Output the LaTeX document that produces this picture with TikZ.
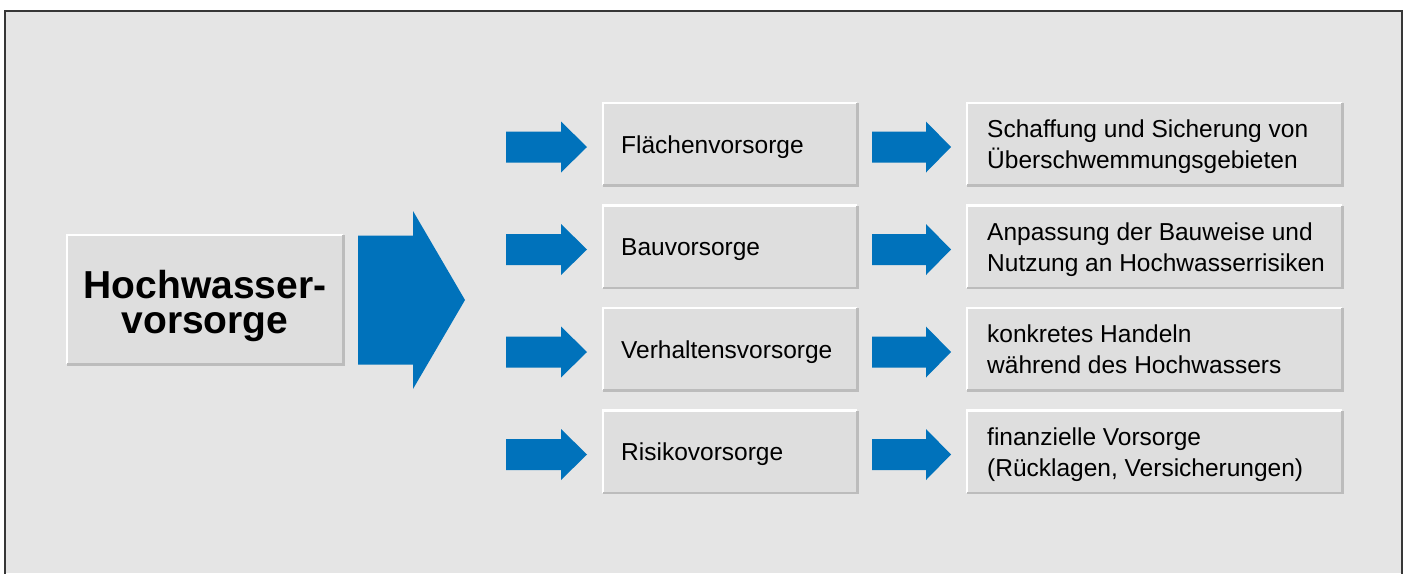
\documentclass[tikz,border=0pt]{standalone}
\usepackage{fontspec}
\setmainfont{Liberation Sans}
\definecolor{pagebg}{RGB}{229,229,229}
\definecolor{boxfill}{RGB}{222,222,222}
\definecolor{boxshade}{RGB}{188,188,188}
\definecolor{framecol}{RGB}{55,55,55}
\definecolor{arrowblue}{RGB}{0,114,187}
\newcommand\blockarrow[6]{%
  \fill[arrowblue] (#1,#4-#5) -- (#2,#4-#5) -- (#2,#4-#6) -- (#3,#4)
    -- (#2,#4+#6) -- (#2,#4+#5) -- (#1,#4+#5) -- cycle;}
\newcommand\bevel[1]{%
  \draw[hilite] (#1.south west) -- (#1.north west) -- (#1.north east);
  \draw[shadeline] (#1.south west) -- (#1.south east) -- (#1.north east);}
\tikzset{
  panel/.style={rectangle, fill=boxfill, anchor=north west, inner sep=0pt, minimum height=82pt},
  midbox/.style={panel, minimum width=254pt},
  rightbox/.style={panel, minimum width=375pt},
  hilite/.style={white, line width=2.2pt},
  shadeline/.style={boxshade, line width=2.2pt},
  midtext/.style={anchor=base west, inner sep=0pt, font=\fontsize{24.5}{31}\selectfont},
  righttext/.style={anchor=north west, inner sep=0pt, align=left, font=\fontsize{24.5}{31}\selectfont},
  bigtext/.style={anchor=north, inner sep=0pt, align=center, font=\bfseries\fontsize{39}{35}\selectfont}
}
\begin{document}
\begin{tikzpicture}[x=1pt, y=-1pt]
\useasboundingbox (0,0) rectangle (1408,573);
\fill[white] (0,0) rectangle (1408,573);
\fill[pagebg] (5,11) rectangle (1402,573);
\draw[framecol, line width=2pt] (5,580) -- (5,11) -- (1402,11) -- (1402,580);

% main box
\node[panel, minimum width=276pt, minimum height=129pt] (main) at (67,235) {};
\bevel{main}
\node[bigtext] (maintext) at (205,270) {Hochwasser-\\vorsorge};
\blockarrow{358}{413}{465}{300}{64.5}{89}

% rows
\node[midbox] (m1) at (603,103) {};
\node[midbox] (m2) at (603,205.5) {};
\node[midbox] (m3) at (603,308) {};
\node[midbox] (m4) at (603,410.5) {};
\node[rightbox] (r1) at (967,103) {};
\node[rightbox] (r2) at (967,205.5) {};
\node[rightbox] (r3) at (967,308) {};
\node[rightbox] (r4) at (967,410.5) {};
\foreach \n in {m1,m2,m3,m4,r1,r2,r3,r4}{\bevel{\n}}

\node[midtext] (t1) at (621,153) {Flächenvorsorge};
\node[midtext] (t2) at (621,255.5) {Bauvorsorge};
\node[midtext] (t3) at (621,358) {Verhaltensvorsorge};
\node[midtext] (t4) at (621,460.5) {Risikovorsorge};

\node[righttext] (u1) at (987,119.6) {Schaffung und Sicherung von\\Überschwemmungsgebieten};
\node[righttext] (u2) at (987,222.1) {Anpassung der Bauweise und\\Nutzung an Hochwasserrisiken};
\node[righttext] (u3) at (987,324.6) {konkretes Handeln\\während des Hochwassers};
\node[righttext] (u4) at (987,427.1) {finanzielle Vorsorge\\(Rücklagen, Versicherungen)};

\foreach \y in {147,249.5,352,454.5}{
  \blockarrow{506}{561}{587}{\y}{15.5}{25.5}
  \blockarrow{872}{926}{951}{\y}{15.5}{25.5}
}
\end{tikzpicture}
\end{document}
